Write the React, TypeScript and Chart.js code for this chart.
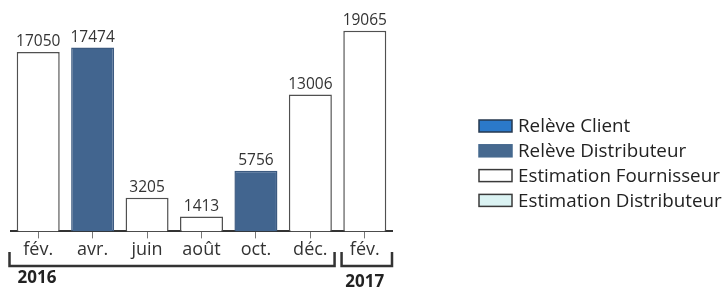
import React, { useEffect, useRef } from "react";
import { Chart, registerables } from "chart.js";

Chart.register(...registerables);

const categories = ["fév.", "avr.", "juin", "août", "oct.", "déc.", "fév."];
const values = [17050, 17474, 3205, 1413, 5756, 13006, 19065];
const readingTypes = [2, 1, 2, 2, 1, 2, 2];

const legendLabels = ["Relève Client", "Relève Distributeur", "Estimation Fournisseur", "Estimation Distributeur"];
const legendFill = ["#2b79c9", "#46698f", "#ffffff", "#dbf3f3"];
const legendBorder = ["#26384f", "#46698f", "#3a3a3a", "#3a3a3a"];

const yearLabels = ["2016", "2017"];
const yearFirst = [0, 6];
const yearLast = [5, 6];

const barFill = ["#2b79c9", "#42658f", "#ffffff", "#dbf3f3"];
const barBorder = ["#26384f", "#3c5a80", "#505050", "#505050"];

const FONT = "'Open Sans', sans-serif";

const valueLabels = {
  id: "valueLabels",
  afterDatasetsDraw(chart: any) {
    const ctx = chart.ctx;
    const meta = chart.getDatasetMeta(0);
    ctx.save();
    ctx.font = `15.5px ${FONT}`;
    ctx.fillStyle = "#333";
    ctx.textAlign = "center";
    ctx.textBaseline = "alphabetic";
    meta.data.forEach((bar: any, i: number) => {
      ctx.fillText(String(values[i]), bar.x, bar.y - 6);
    });
    ctx.restore();
  },
};

const yearBrackets = {
  id: "yearBrackets",
  afterDraw(chart: any) {
    const ctx = chart.ctx;
    const x = chart.scales.x;
    const half = (x.getPixelForValue(1) - x.getPixelForValue(0)) / 2;
    ctx.save();
    ctx.strokeStyle = "#333";
    ctx.lineWidth = 2.5;
    ctx.fillStyle = "#222";
    ctx.font = `bold 17px ${FONT}`;
    ctx.textBaseline = "alphabetic";
    yearLabels.forEach((lab, g) => {
      const l = x.getPixelForValue(yearFirst[g]) - half + (g === 0 ? -1.5 : 4);
      const r = x.getPixelForValue(yearLast[g]) + half - (g === yearLabels.length - 1 ? 0 : 3);
      ctx.beginPath();
      ctx.moveTo(l, 252);
      ctx.lineTo(l, 266);
      ctx.lineTo(r, 266);
      ctx.lineTo(r, 252);
      ctx.stroke();
      if (yearFirst[g] === yearLast[g]) {
        ctx.textAlign = "center";
        ctx.fillText(lab, (l + r) / 2 - 2, 287);
      } else {
        ctx.textAlign = "left";
        ctx.fillText(lab, l + 8, 283);
      }
    });
    ctx.restore();
  },
};

const sideLegend = {
  id: "sideLegend",
  afterDraw(chart: any) {
    const ctx = chart.ctx;
    ctx.save();
    ctx.font = `18.8px ${FONT}`;
    ctx.textBaseline = "middle";
    ctx.textAlign = "left";
    legendLabels.forEach((lab, i) => {
      const cy = 126 + i * 24.8;
      ctx.fillStyle = legendFill[i];
      ctx.fillRect(479, cy - 6, 33, 12);
      ctx.strokeStyle = legendBorder[i];
      ctx.lineWidth = 1.5;
      ctx.strokeRect(479, cy - 6, 33, 12);
      ctx.fillStyle = "#222";
      ctx.fillText(lab, 518, cy + 1);
    });
    ctx.restore();
  },
};

export default function App() {
  const ref = useRef<HTMLCanvasElement | null>(null);
  useEffect(() => {
    if (!ref.current) return;
    const chart = new Chart(ref.current, {
      type: "bar",
      data: {
        labels: categories,
        datasets: [
          {
            data: values,
            backgroundColor: readingTypes.map((t) => barFill[t]),
            borderColor: readingTypes.map((t) => barBorder[t]),
            borderWidth: 1.5,
            barPercentage: 0.79,
            categoryPercentage: 1,
          },
        ],
      },
      options: {
        responsive: false,
        animation: false,
        layout: { padding: { left: 11, right: 334, top: 21, bottom: 26 } },
        plugins: { legend: { display: false }, tooltip: { enabled: false } },
        scales: {
          x: {
            grid: { display: true, drawOnChartArea: false, drawTicks: true, tickLength: 7, offset: false, color: "#777", lineWidth: 1 },
            border: { display: true, color: "#333", width: 2 },
            ticks: { color: "#333", font: { family: FONT, size: 18 }, padding: 1, maxRotation: 0, autoSkip: false },
          },
          y: { display: false, min: 0, max: 20000 },
        },
      },
      plugins: [valueLabels, yearBrackets, sideLegend],
    });
    return () => chart.destroy();
  }, []);
  return (
    <div style={{ position: "absolute", left: 0, top: 0, width: 726, height: 288, background: "#fff" }}>
      <canvas ref={ref} width={726} height={288} />
    </div>
  );
}
